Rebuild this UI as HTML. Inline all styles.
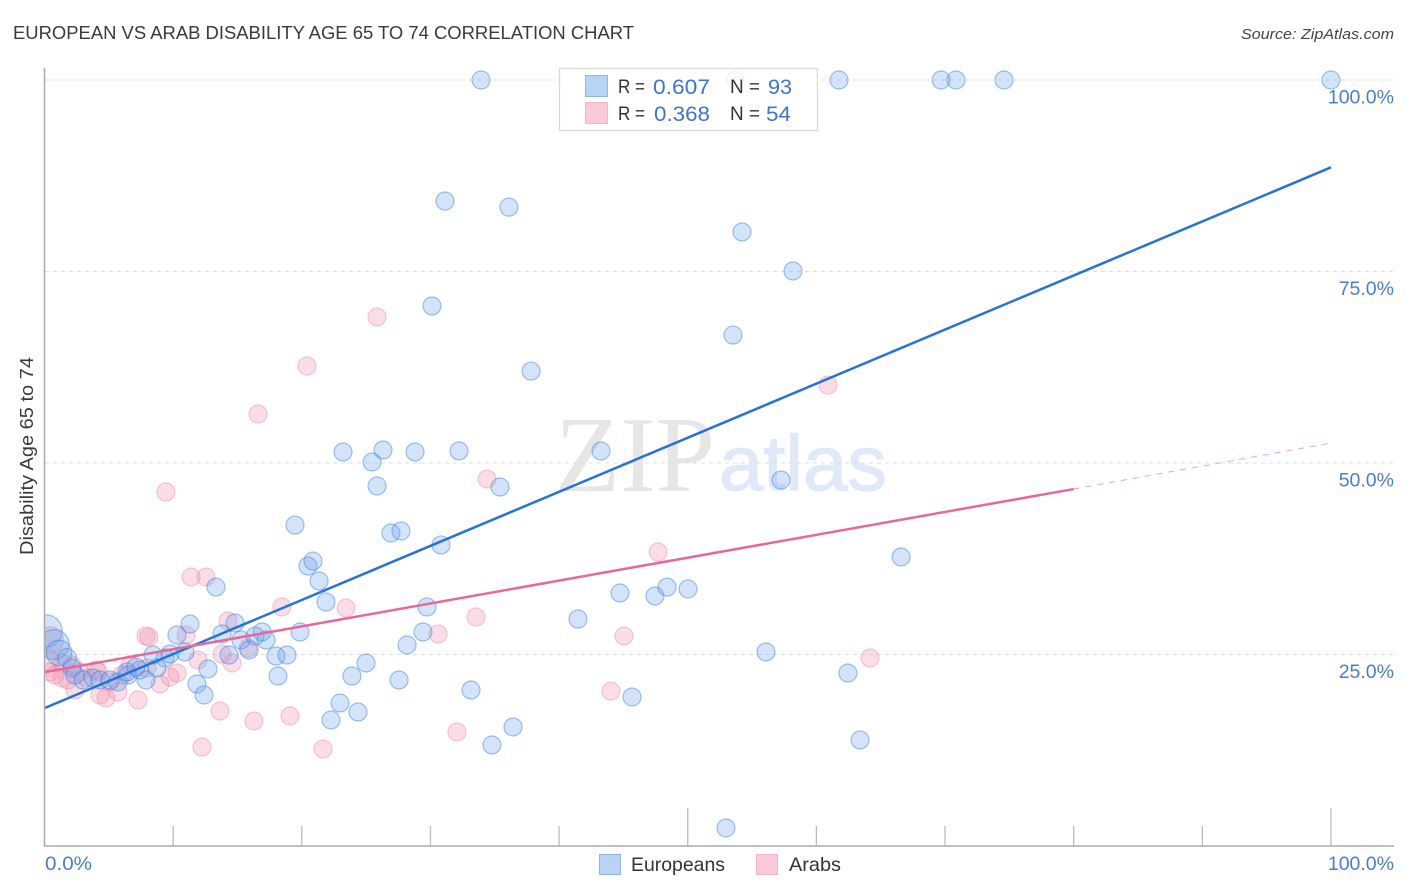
<!DOCTYPE html>
<html lang="en">
<head>
<meta charset="utf-8">
<title>European vs Arab Disability Age 65 to 74 Correlation Chart</title>
<style>
  html, body { margin: 0; padding: 0; background: #fff; }
  svg { display: block; font-family: "Liberation Sans", sans-serif; }
</style>
</head>
<body>
<svg id="chart" width="1406" height="892" viewBox="0 0 1406 892" xmlns="http://www.w3.org/2000/svg">
  <defs>
    <clipPath id="plot-clip"><rect x="45" y="60" width="1361" height="786"></rect></clipPath>
  </defs>
  <text x="13" y="39" font-size="18" fill="#3a3a3a" textLength="621" lengthAdjust="spacingAndGlyphs">EUROPEAN VS ARAB DISABILITY AGE 65 TO 74 CORRELATION CHART</text>
  <text x="1394" y="39" font-size="15" font-style="italic" fill="#444" text-anchor="end" textLength="153" lengthAdjust="spacingAndGlyphs">Source: ZipAtlas.com</text>

  <g>
    <text x="555" y="491" font-family="'Liberation Serif', serif" font-size="108" fill="#e6e6e6" textLength="160" lengthAdjust="spacingAndGlyphs">ZIP</text>
    <text x="719" y="490" font-size="78" fill="#dfe9fa" stroke="#dfe9fa" stroke-width="1.2" textLength="168" lengthAdjust="spacingAndGlyphs">atlas</text>
  </g>

  <g id="grid"></g>
  <g id="points" clip-path="url(#plot-clip)"></g>
  <g id="trends"></g>
  <g id="axes"></g>

  <text transform="translate(33,456) rotate(-90)" font-size="18" fill="#3a3a3a" text-anchor="middle" textLength="198" lengthAdjust="spacingAndGlyphs">Disability Age 65 to 74</text>

  <g>
    <rect x="559.5" y="68.5" width="258" height="62" fill="#fff" fill-opacity="0.85" stroke="#d8d8d8" stroke-width="1.2"></rect>
    <rect x="585.5" y="75.5" width="22" height="21" fill="#b9d3f7" stroke="#8fb5ea"></rect>
    <rect x="585.5" y="102.5" width="22" height="21" fill="#fcc9d9" stroke="#f5b5c9"></rect>
    <g font-size="19" fill="#333">
      <text x="618" y="93" textLength="27" lengthAdjust="spacingAndGlyphs">R =</text>
      <text x="730" y="93" textLength="30" lengthAdjust="spacingAndGlyphs">N =</text>
      <text x="618" y="120" textLength="27" lengthAdjust="spacingAndGlyphs">R =</text>
      <text x="730" y="120" textLength="30" lengthAdjust="spacingAndGlyphs">N =</text>
    </g>
    <g font-size="21.5" fill="#3f74d2">
      <text x="653" y="94" textLength="57" lengthAdjust="spacingAndGlyphs">0.607</text>
      <text x="768" y="94" textLength="24" lengthAdjust="spacingAndGlyphs">93</text>
      <text x="654" y="121" textLength="56" lengthAdjust="spacingAndGlyphs">0.368</text>
      <text x="766" y="121" textLength="25" lengthAdjust="spacingAndGlyphs">54</text>
    </g>
  </g>

  <g>
    <rect x="599.5" y="854.5" width="21" height="20" fill="#b9d3f7" stroke="#8fb5ea"></rect>
    <text x="631" y="871" font-size="19.5" fill="#333" textLength="94" lengthAdjust="spacingAndGlyphs">Europeans</text>
    <rect x="756.5" y="854.5" width="21" height="20" fill="#fcc9d9" stroke="#f5b5c9"></rect>
    <text x="789" y="871" font-size="19.5" fill="#333" textLength="52" lengthAdjust="spacingAndGlyphs">Arabs</text>
  </g>
</svg>

<script>
// Chart data, in axis units (percent). Third point value is the bubble weight (defaults to 1).
const yTickValues = [25, 50, 75, 100];
const yTickLabels = ["25.0%", "50.0%", "75.0%", "100.0%"];
const xTickValues = [0, 10, 20, 30, 40, 50, 60, 70, 80, 90, 100];
const xMajorTicks = [50, 100];
const xEndLabels = ["0.0%", "100.0%"];
const trendEuropeansX = [0, 100];
const trendEuropeansY = [18.0, 88.6];
const trendArabsX = [0, 80];
const trendArabsY = [22.7, 46.6];
const trendArabsExtX = [80, 100];
const trendArabsExtY = [46.6, 52.6];
const europeans = [
  [33.93,100],[53.68,100],[61.76,100],[69.69,100],[70.85,100],[74.58,100],[100,100],
  [31.13,84.2],[36.1,83.4],[54.22,80.16],[58.18,75.07],[30.12,70.5],[53.52,66.7],[37.82,62.0],
  [23.2,51.44],[26.31,51.7],[25.46,50.13],[28.8,51.44],[32.22,51.57],[43.26,51.57],[25.85,47.0],[35.41,46.87],[57.25,47.78],
  [19.47,41.9],[26.93,40.86],[27.71,41.12],[30.82,39.3],[66.58,37.73],[20.48,36.55],[20.87,37.2],[21.34,34.6],[13.33,33.8],[21.88,31.85],
  [44.73,33.03],[47.45,32.64],[48.39,33.8],[50.02,33.55],[29.73,31.2],[41.47,29.63],
  [11.31,28.98],[14.81,29.11],[10.3,27.55],[13.8,27.68],[16.91,27.94],[16.36,27.41],[15.27,26.9],[17.22,26.9],[19.86,27.94],[29.42,27.94],[28.18,26.24],
  [56.08,25.33],[15.9,25.59],[17.99,24.8],[18.85,24.93],[14.34,24.93],[10.92,25.33],[9.76,25.07],[9.37,24.54],[8.43,24.93],
  [24.99,23.89],[23.9,22.19],[62.45,22.58],[18.15,22.19],[27.56,21.67],[33.15,20.37],[45.67,19.45],
  [11.85,21.15],[12.71,23.11],[12.4,19.71],[22.97,18.67],[24.37,17.49],[22.27,16.45],[36.42,15.54],[34.78,13.19],[63.39,13.84],[52.97,2.35],
  [0.12,28.07,3.2],[0.75,26.3,2.8],[1.13,25.2,2.0],[1.75,24.54,1.1],[2.14,23.24],[2.37,22.32],[2.99,21.67],[3.77,21.93],[4.31,21.67],
  [5.09,21.67],[5.71,21.41],[6.49,22.32],[7.42,22.98],[7.89,21.67],[8.74,23.24],[6.41,22.72],[7.11,23.37]
];
const arabs = [
  [25.85,69.06],[20.4,62.66],[60.9,60.18],[16.6,56.4],[9.44,46.21],[34.4,47.91],[47.69,38.38],[11.39,35.12],[12.55,35.12],
  [18.46,31.2],[23.44,31.07],[33.54,29.9],[30.59,27.68],[45.05,27.41],[14.26,29.37],[7.89,27.41],[8.12,27.28],[11.0,27.55],
  [64.17,24.54],[13.8,25.07],[11.93,24.28],[14.57,23.89],[44.03,20.23],[13.64,17.62],[19.08,16.97],[16.28,16.32],[32.06,14.88],
  [12.24,12.92],[21.65,12.66],[7.27,19.06],[4.78,19.32],[4.31,19.71],[8.98,21.15],[9.76,22.06],[10.3,22.58],[15.82,25.85],
  [0.43,26.89,2.2],[0.27,24.28,1.5],[0.43,22.72],[0.82,22.32],[1.36,21.93],[1.83,21.67],[1.36,23.89],[2.37,20.37],[3.3,21.93],
  [4.16,22.72],[5.71,20.1],[6.65,23.63],[7.97,23.24],[6.02,22.32],[5.09,21.41],[4.0,22.98],[2.76,22.72],[2.14,23.63]
];

const NS = "http://www.w3.org/2000/svg";
function xScale(v) { return 44.5 + v * 12.865; }
function yScale(v) { return 846 - v * 7.66; }
function rScale(w) { return 9 * Math.sqrt(w === undefined ? 1 : w); }
function make(parent, tag, attrs) {
  const el = document.createElementNS(NS, tag);
  for (const k in attrs) el.setAttribute(k, attrs[k]);
  parent.appendChild(el);
  return el;
}

const gridG = document.getElementById("grid");
const axesG = document.getElementById("axes");
const pointsG = document.getElementById("points");
const trendsG = document.getElementById("trends");

yTickValues.forEach(function (v, i) {
  const line = make(gridG, "line", { x1: 45, x2: 1394, y1: yScale(v), y2: yScale(v), stroke: "#dddddd", "stroke-width": 1, "stroke-dasharray": "4 4" });
  
  
  const label = make(axesG, "text", { x: 1394, y: yScale(v) + 23.5, "font-size": 19.5, fill: "#4a7cd4", "text-anchor": "end" });
  label.textContent = yTickLabels[i];
  
  
});

const yAxisLine = make(axesG, "line", { x1: 44.5, x2: 44.5, y1: 68, y2: 846.5, stroke: "#aaaaaa", "stroke-width": 1.5 });


const xAxisLine = make(axesG, "line", { x1: 44, x2: 1394, y1: 846, y2: 846, stroke: "#aaaaaa", "stroke-width": 1.5 });



xTickValues.slice(1).forEach(function (v) {
  const major = xMajorTicks.indexOf(v) >= 0;
  const tick = make(axesG, "line", { x1: xScale(v), x2: xScale(v), y1: major ? 808 : 826, y2: 846, stroke: "#bbbbbb", "stroke-width": 1.3 });
  
  
});

const xLabelStart = make(axesG, "text", { x: 45, y: 870, "font-size": 19.5, fill: "#4a7cd4", textLength: 47, lengthAdjust: "spacingAndGlyphs" });
xLabelStart.textContent = xEndLabels[0];


const xLabelEnd = make(axesG, "text", { x: 1394, y: 870, "font-size": 19.5, fill: "#4a7cd4", "text-anchor": "end" });
xLabelEnd.textContent = xEndLabels[1];



arabs.forEach(function (p) {
  const c = make(pointsG, "circle", { cx: xScale(p[0]), cy: yScale(p[1]), r: rScale(p[2]), fill: "rgba(238,142,168,0.3)", stroke: "rgba(240,130,165,0.42)", "stroke-width": 1.2 });
  
  
});
europeans.forEach(function (p) {
  const c = make(pointsG, "circle", { cx: xScale(p[0]), cy: yScale(p[1]), r: rScale(p[2]), fill: "rgba(108,162,235,0.3)", stroke: "rgba(60,130,220,0.48)", "stroke-width": 1.2 });
  
  
});

const blueTrend = make(trendsG, "line", { x1: xScale(trendEuropeansX[0]), y1: yScale(trendEuropeansY[0]), x2: xScale(trendEuropeansX[1]), y2: yScale(trendEuropeansY[1]), stroke: "#2672d8", "stroke-width": 2.5 });


const pinkTrend = make(trendsG, "line", { x1: xScale(trendArabsX[0]), y1: yScale(trendArabsY[0]), x2: xScale(trendArabsX[1]), y2: yScale(trendArabsY[1]), stroke: "#e8689a", "stroke-width": 2.5 });


const pinkExt = make(trendsG, "line", { x1: xScale(trendArabsExtX[0]), y1: yScale(trendArabsExtY[0]), x2: xScale(trendArabsExtX[1]), y2: yScale(trendArabsExtY[1]), stroke: "#f0a3c0", "stroke-width": 1, "stroke-dasharray": "6 6" });


</script>
</body>
</html>
